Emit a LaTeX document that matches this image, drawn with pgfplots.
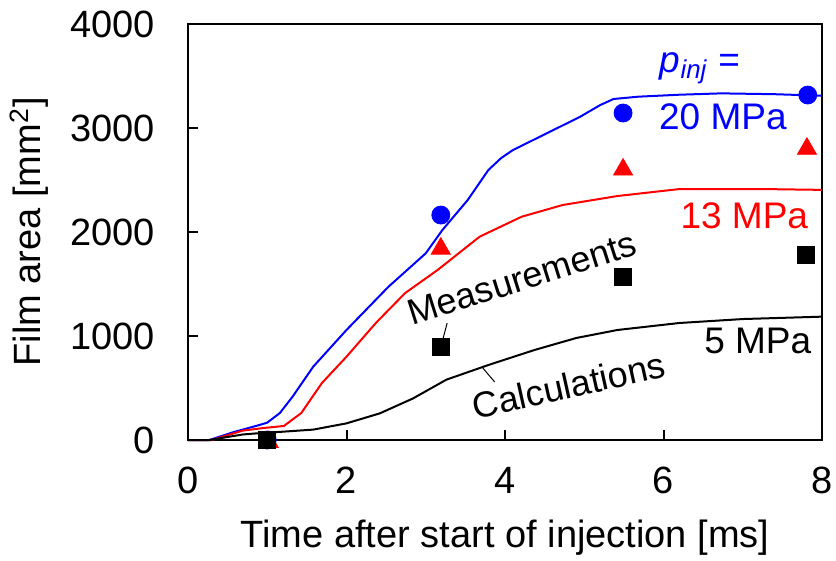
\documentclass[border=0pt]{standalone}
\usepackage{fontspec}
\setmainfont{Liberation Sans}
\usepackage{pgfplots}
\pgfplotsset{compat=1.18}
\begin{document}
\begin{tikzpicture}
\begin{axis}[
  scale only axis, width=317pt, height=208pt,
  xmin=0, xmax=8, ymin=0, ymax=4000,
  xtick={0,2,4,6,8}, ytick={0,1000,2000,3000,4000},
  tick align=inside, xtick pos=bottom, ytick pos=left,
  major tick length=5pt,
  axis line style={line width=1pt}, tick style={line width=1pt, black},
  /pgf/number format/assume math mode=true,
  /pgf/number format/1000 sep={},
  tick label style={font=\fontsize{19}{23}\selectfont},
  xticklabel style={yshift=-10pt},
  yticklabel style={xshift=-13pt},
  label style={font=\fontsize{19}{23}\selectfont},
  xlabel style={yshift=-6pt},
  ylabel shift=4pt,
  xlabel={Time after start of injection [ms]},
  ylabel={Film area [mm\textsuperscript{2}]},
  clip=false,
]
% calculations
\addplot[blue, line width=1pt] coordinates {(0,0)(0.27,0)(0.58,77)(0.9,144)(1.0,167)(1.16,260)(1.32,417)(1.58,705)(2.0,1058)(2.53,1474)(3.0,1795)(3.21,2019)(3.53,2308)(3.79,2596)(3.95,2710)(4.1,2788)(4.53,2950)(4.95,3109)(5.2,3220)(5.37,3279)(5.68,3301)(6.2,3320)(6.73,3333)(7.4,3325)(8.0,3310)};
\addplot[red, line width=1pt] coordinates {(0,0)(0.3,0)(0.69,90)(0.95,115)(1.21,135)(1.43,260)(1.69,548)(2.0,801)(2.37,1125)(2.74,1413)(3.15,1635)(3.68,1955)(4.21,2147)(4.73,2260)(5.42,2346)(6.2,2413)(7.25,2413)(8.0,2405)};
\addplot[black, line width=1pt] coordinates {(0,0)(0.27,0)(0.69,53)(1.0,72)(1.16,78)(1.58,100)(2.0,160)(2.42,256)(2.84,400)(3.26,580)(3.79,721)(4.37,865)(4.9,981)(5.42,1058)(6.2,1125)(7.0,1163)(8.0,1186)};
% measurements
\addplot[only marks, mark=*, blue, mark size=4.5pt] coordinates {(1.0,0)(3.19,2163)(5.49,3144)(7.82,3317)};
\addplot[only marks, mark=triangle*, red, mark size=5.5pt] coordinates {(1.02,-20)(3.19,1840)(5.49,2600)(7.81,2800)};
\addplot[only marks, mark=square*, black, mark size=4.3pt] coordinates {(1.0,0)(3.19,894)(5.49,1567)(7.8,1779)};
% annotations
\node[blue, anchor=base west, inner sep=0pt, font=\fontsize{18.5}{22}\selectfont] at (axis cs:5.95,3538) {\textit{p}\textsubscript{\textit{inj}} =};
\node[blue, anchor=base west, font=\fontsize{18.5}{22}\selectfont, inner sep=0pt] at (axis cs:5.94,2981) {20 MPa};
\node[red, anchor=base west, font=\fontsize{18.5}{22}\selectfont, inner sep=0pt] at (axis cs:6.21,2038) {13 MPa};
\node[black, anchor=base west, font=\fontsize{18.5}{22}\selectfont, inner sep=0pt] at (axis cs:6.51,836) {5 MPa};
\node[black, anchor=base, rotate=17.5, font=\fontsize{18}{22}\selectfont, inner sep=0pt] at (axis cs:4.26,1442) {Measurements};
\node[black, anchor=base, rotate=12.5, font=\fontsize{18}{22}\selectfont, inner sep=0pt] at (axis cs:4.84,405) {Calculations};
\draw[black, line width=0.5pt] (axis cs:3.27,1125) -- (axis cs:3.22,981);
\draw[black, line width=0.5pt] (axis cs:3.72,692) -- (axis cs:3.87,558);
\end{axis}
\pgfresetboundingbox
\path ([xshift=-94pt,yshift=-60pt]current axis.south west) rectangle ([xshift=7pt,yshift=12pt]current axis.north east);
\end{tikzpicture}
\end{document}
